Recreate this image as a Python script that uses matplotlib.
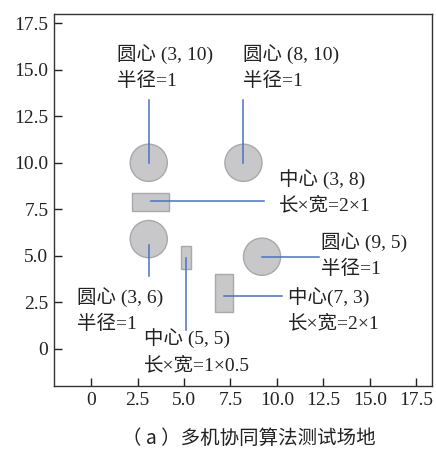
import matplotlib
matplotlib.use('Agg')
import matplotlib.pyplot as plt
from matplotlib.patches import Circle, Rectangle

plt.rcParams['font.family'] = ['Liberation Serif', 'Noto Sans CJK SC']

# obstacles: circles (center, radius) and rectangles (center, width, height)
circle_centers = [(3.1, 10.0), (8.2, 10.0), (3.1, 5.9), (9.2, 4.95)]
circle_radius = [1.0, 1.0, 1.0, 1.0]
rect_centers = [(3.2, 7.9), (5.1, 4.9), (7.15, 3.0)]
rect_sizes = [(2.0, 1.0), (0.5, 1.2), (1.0, 2.0)]

# leader lines: (x0, y0) -> (x1, y1)
leader_start = [(3.1, 10.0), (8.2, 10.0), (3.2, 7.95), (3.1, 5.6),
                (5.1, 4.9), (9.2, 4.95), (7.15, 2.85)]
leader_end = [(3.1, 13.4), (8.2, 13.4), (9.3, 7.95), (3.1, 3.9),
              (5.1, 1.0), (12.25, 4.95), (10.3, 2.85)]

# annotation texts and their anchors (left, vertical center of the block)
labels = ['圆心 (3, 10)\n半径=1', '圆心 (8, 10)\n半径=1', '中心 (3, 8)\n长×宽=2×1',
          '圆心 (3, 6)\n半径=1', '中心 (5, 5)\n长×宽=1×0.5', '圆心 (9, 5)\n半径=1',
          '中心(7, 3)\n长×宽=2×1']
label_pos = [(1.4, 15.15), (8.2, 15.15), (10.1, 8.45), (-0.75, 2.1),
             (2.85, -0.13), (12.4, 5.05), (10.6, 2.1)]

xticks = [0, 2.5, 5.0, 7.5, 10.0, 12.5, 15.0, 17.5]
xtick_labels = ['0', '2.5', '5.0', '7.5', '10.0', '12.5', '15.0', '17.5']
yticks = [0, 2.5, 5.0, 7.5, 10.0, 12.5, 15.0, 17.5]
ytick_labels = ['0', '2.5', '5.0', '7.5', '10.0', '12.5', '15.0', '17.5']

fill_c = '#c8c7c9'
edge_c = '#a9a8aa'
line_c = '#4a72c0'
text_c = '#222222'
fs = 14

fig = plt.figure(figsize=(4.36, 4.5), dpi=100)
ax = fig.add_axes([54 / 436, 1 - 386 / 450, 378 / 436, 372 / 450])

for (cx, cy), r in zip(circle_centers, circle_radius):
    ax.add_patch(Circle((cx, cy), r, facecolor=fill_c, edgecolor=edge_c, lw=1.0))
for (cx, cy), (w, h) in zip(rect_centers, rect_sizes):
    ax.add_patch(Rectangle((cx - w / 2, cy - h / 2), w, h,
                           facecolor=fill_c, edgecolor=edge_c, lw=1.0))

for (x0, y0), (x1, y1) in zip(leader_start, leader_end):
    ax.plot([x0, x1], [y0, y1], color=line_c, lw=1.1)

for txt, (tx, ty) in zip(labels, label_pos):
    ax.text(tx, ty, txt, fontsize=fs, ha='left', va='center',
            linespacing=1.55, color=text_c)

ax.set_xlim(-2, 18.35)
ax.set_ylim(-2, 18)
ax.set_xticks(xticks)
ax.set_xticklabels(xtick_labels)
ax.set_yticks(yticks)
ax.set_yticklabels(ytick_labels)
ax.tick_params(direction='in', length=5.5, width=1, labelsize=fs, colors=text_c, pad=4)
for sp in ax.spines.values():
    sp.set_color('#333333')
    sp.set_linewidth(1.0)

fig.text(249 / 436, 1 - 438 / 450, '（ a ）多机协同算法测试场地', ha='center', va='center',
         fontsize=fs, color=text_c, family=['Noto Sans CJK SC'])

fig.savefig('out.png', dpi=100)
